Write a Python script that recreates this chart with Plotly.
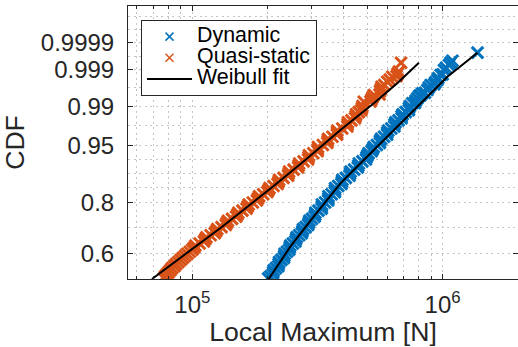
import numpy as np
import plotly.graph_objects as go

# ---- empirical CDF levels shared by both load cases (upper half of the samples) ----
bulk_cdf = [0.5023, 0.51010, 0.5180, 0.52593, 0.5339, 0.54194, 0.5500, 0.55811, 0.5663, 0.57441,
            0.5826, 0.59082, 0.5990, 0.60731, 0.6156, 0.62384, 0.6321, 0.64040, 0.6487, 0.65693,
            0.6652, 0.67342, 0.6816, 0.68981, 0.6980, 0.70608, 0.7142, 0.72219, 0.7302, 0.73809,
            0.7460, 0.75376, 0.7615, 0.76914, 0.7767, 0.78420, 0.7916, 0.79891, 0.8061, 0.81322,
            0.8202, 0.82710, 0.8339, 0.84052, 0.8470, 0.85344, 0.8597, 0.86584, 0.8718, 0.87769,
            0.8834, 0.88896, 0.8944, 0.89965, 0.9048, 0.90972, 0.9145, 0.91918, 0.9237, 0.92802,
            0.9322, 0.93623, 0.9401, 0.94382, 0.9474, 0.95079, 0.9541, 0.95716, 0.9601, 0.96294,
            0.9656, 0.96816, 0.9706, 0.97283, 0.9750, 0.97699, 0.9789, 0.98065, 0.98232, 0.983866,
            0.98531, 0.986657, 0.98790, 0.989062, 0.99012]

# ---- Dynamic load case: sorted local maxima [kN] ----
dyn_bulk_kn = [200.9, 205.2, 209.8, 210.5, 211.3, 215.9, 220.7, 221.3, 222.1, 227.0,
               232.2, 232.9, 233.7, 238.7, 244.0, 245.0, 246.0, 252.0, 258.1, 259.5,
               261.0, 267.3, 273.8, 275.3, 276.8, 283.4, 290.1, 291.8, 293.4, 300.5,
               307.8, 309.6, 310.1, 319.2, 328.6, 329.1, 329.5, 339.1, 349.0, 349.4,
               349.9, 360.2, 370.9, 371.3, 371.9, 382.8, 394.2, 395.7, 397.4, 410.6,
               424.4, 426.4, 428.7, 443.1, 458.0, 460.4, 462.7, 478.1, 494.0, 496.5,
               501.3, 506.2, 520.7, 525.7, 530.8, 546.0, 561.6, 561.8, 567.3, 583.5,
               600.2, 600.4, 606.3, 623.6, 641.4, 641.6, 648.0, 666.4, 685.5, 685.7,
               692.5, 712.5, 733.2, 733.5, 740.7]
dyn_tail_cdf = [0.99140, 0.99160, 0.99250, 0.99341, 0.99420, 0.99440, 0.99504, 0.99520,
                0.99592, 0.99650, 0.99701, 0.99715, 0.99750, 0.99784, 0.99810, 0.99847,
                0.99855, 0.99894, 0.99910, 0.99928, 0.99940, 0.999492, 0.999747]
dyn_tail_kn = [756.5, 775.0, 780.0, 792.2, 805.0, 815.0, 829.5, 850.0,
               868.7, 880.0, 895.5, 925.0, 935.0, 952.6, 960.0, 982.1,
               1000.0, 1012.4, 1030.0, 1060.2, 1075.0, 1094.0, 1378.0]

# ---- Quasi-static load case: sorted local maxima [kN] ----
qs_bulk_kn = [77.0, 77.8, 79.1, 80.4, 81.7, 83.0, 84.8, 86.2, 88.0, 89.8,
              91.6, 93.5, 95.5, 97.7, 100.0, 101.6, 102.8, 106.9, 111.2, 112.5,
              113.8, 118.3, 122.9, 124.4, 125.8, 130.8, 136.0, 137.3, 138.7, 144.1,
              149.6, 151.2, 152.7, 158.6, 164.7, 166.3, 168.0, 174.4, 181.1, 183.0,
              184.9, 192.0, 199.4, 201.4, 203.4, 211.1, 219.0, 221.0, 222.1, 231.5,
              241.3, 242.4, 243.5, 253.8, 264.6, 265.8, 267.1, 278.4, 290.1, 291.2,
              292.3, 304.3, 316.7, 317.1, 317.6, 332.3, 346.0, 347.3, 348.6, 363.0,
              378.1, 378.6, 379.1, 397.2, 416.1, 417.3, 418.4, 432.2, 446.8, 449.2,
              451.3, 462.3, 473.5, 476.1, 478.3]
qs_tail_cdf = [0.99209, 0.99225, 0.99300, 0.99380, 0.99453, 0.99470, 0.99560, 0.99610,
               0.99667, 0.99700, 0.99758, 0.99790, 0.99828, 0.99835, 0.99860, 0.99880,
               0.99940]
qs_tail_kn = [484.1, 515.0, 520.0, 525.0, 531.8, 559.5, 562.0, 566.0,
              569.9, 585.0, 600.7, 615.0, 629.0, 654.5, 660.0, 668.5,
              682.2]

# ---- Weibull fit curves (force [kN], CDF) ----
dyn_fit_cdf = [0.5, 0.62748, 0.74638, 0.86172, 0.92225, 0.97805, 0.998279, 0.999747]
dyn_fit_kn = [201.9, 246.3, 305.3, 390.5, 484.1, 679.2, 1044.6, 1378.0]
qs_fit_cdf = [0.5, 0.70757, 0.85135, 0.92225, 0.97124, 0.99139, 0.997317, 0.99940]
qs_fit_kn = [69.0, 131.5, 209.5, 282.7, 390.5, 530.9, 658.7, 803.9]

# ---- axes ----
y_tick_probs = [0.6, 0.8, 0.95, 0.99, 0.999, 0.9999]
y_tick_labels = ["0.6", "0.8", "0.95", "0.99", "0.999", "0.9999"]
y_minor_divisions = [2, 4, 2, 2, 2]     # grid subdivisions between labelled levels
y_limits = [0.5, 0.999999]
x_log_limits = [4.743, 6.3011]
x_tick_vals = [1e5, 1e6]
x_tick_labels = ["10<sup>5</sup>", "10<sup>6</sup>"]

BLUE = "#0072BD"
ORANGE = "#D95319"
AX = "#262626"
GRID = "#c4c4c4"
FONT = "Liberation Sans, Arial, Helvetica, sans-serif"


def weib(p):
    """Weibull probability-paper transform: ln(-ln(1-p))."""
    p = np.asarray(p, dtype=float)
    return np.log(-np.log1p(-p))


assert len(bulk_cdf) == len(dyn_bulk_kn) == len(qs_bulk_kn)
dyn_cdf = bulk_cdf + dyn_tail_cdf
dyn_force = np.array(dyn_bulk_kn + dyn_tail_kn) * 1e3
qs_cdf = bulk_cdf + qs_tail_cdf
qs_force = np.array(qs_bulk_kn + qs_tail_kn) * 1e3

major_w = weib(y_tick_probs)
minor_w = []
for (a, b), n in zip(zip(major_w[:-1], major_w[1:]), y_minor_divisions):
    minor_w += list(a + (b - a) * np.arange(1, n) / n)
step = (major_w[-1] - major_w[-2]) / 2
minor_w += [major_w[-1] + step, major_w[-1] + 2 * step]

x_minor = [k * 10.0 ** e for e in (4, 5, 6) for k in range(2, 10)]


def label(text):
    return f'<span style="font-size:21.4px">{text}</span>'


fig = go.Figure()
# legend entries for the two sample sets (smaller symbol than on the axes)
for name, col in (("Dynamic", BLUE), ("Quasi-static", ORANGE)):
    fig.add_trace(go.Scatter(
        x=[None], y=[None], mode="markers", name=label(name),
        marker=dict(symbol="x-thin", size=8, color=col, line=dict(color=col, width=1.5))))

sample_marker = dict(symbol="x-thin", size=11.5)
fig.add_trace(go.Scatter(
    x=dyn_force, y=weib(dyn_cdf), mode="markers", showlegend=False,
    marker=dict(color=BLUE, line=dict(color=BLUE, width=3), **sample_marker)))
fig.add_trace(go.Scatter(
    x=qs_force, y=weib(qs_cdf), mode="markers", showlegend=False,
    marker=dict(color=ORANGE, line=dict(color=ORANGE, width=3), **sample_marker)))
fig.add_trace(go.Scatter(
    x=np.array(dyn_fit_kn) * 1e3, y=weib(dyn_fit_cdf), mode="lines",
    name=label("Weibull fit"), line=dict(color="black", width=2)))
fig.add_trace(go.Scatter(
    x=np.array(qs_fit_kn) * 1e3, y=weib(qs_fit_cdf), mode="lines",
    showlegend=False, line=dict(color="black", width=2)))

grid_dash = "2px,3.5px"
fig.update_layout(
    width=518, height=347,
    margin=dict(l=128, r=0, t=6, b=68),
    paper_bgcolor="white", plot_bgcolor="white",
    font=dict(family=FONT, color=AX, size=24),
    showlegend=True,
    legend=dict(
        x=13 / 390, xanchor="left", y=(279 - 20) / 273, yanchor="top",
        bgcolor="white", bordercolor=AX, borderwidth=1,
        font=dict(family=FONT, size=14, color="black"),
        itemwidth=45, tracegroupgap=0,
    ),
    xaxis=dict(
        type="log", range=x_log_limits,
        tickmode="array", tickvals=x_tick_vals, ticktext=x_tick_labels,
        ticks="inside", ticklen=5, tickwidth=1, tickcolor=AX,
        showline=True, linecolor=AX, linewidth=1, mirror="ticks",
        showgrid=True, gridcolor=GRID, griddash=grid_dash, gridwidth=1,
        zeroline=False,
        tickfont=dict(size=24, color=AX),
        ticklabelstandoff=4,
        minor=dict(tickmode="array", tickvals=x_minor, ticks="inside", ticklen=3,
                   tickcolor=AX, showgrid=True, gridcolor=GRID, griddash=grid_dash,
                   gridwidth=1),
        title=dict(text="Local Maximum [N]", font=dict(size=26.6, color=AX), standoff=2),
    ),
    yaxis=dict(
        range=list(weib(y_limits)),
        tickmode="array", tickvals=list(major_w), ticktext=y_tick_labels,
        ticks="inside", ticklen=5, tickwidth=1, tickcolor=AX,
        showline=True, linecolor=AX, linewidth=1, mirror="ticks",
        showgrid=True, gridcolor=GRID, griddash=grid_dash, gridwidth=1,
        zeroline=False,
        tickfont=dict(size=24, color=AX),
        ticklabelstandoff=8,
        minor=dict(tickmode="array", tickvals=minor_w, ticks="",
                   showgrid=True, gridcolor=GRID, griddash=grid_dash, gridwidth=1),
        title=dict(text="CDF", font=dict(size=26.6, color=AX), standoff=8),
    ),
)

fig.write_html("out.html")
